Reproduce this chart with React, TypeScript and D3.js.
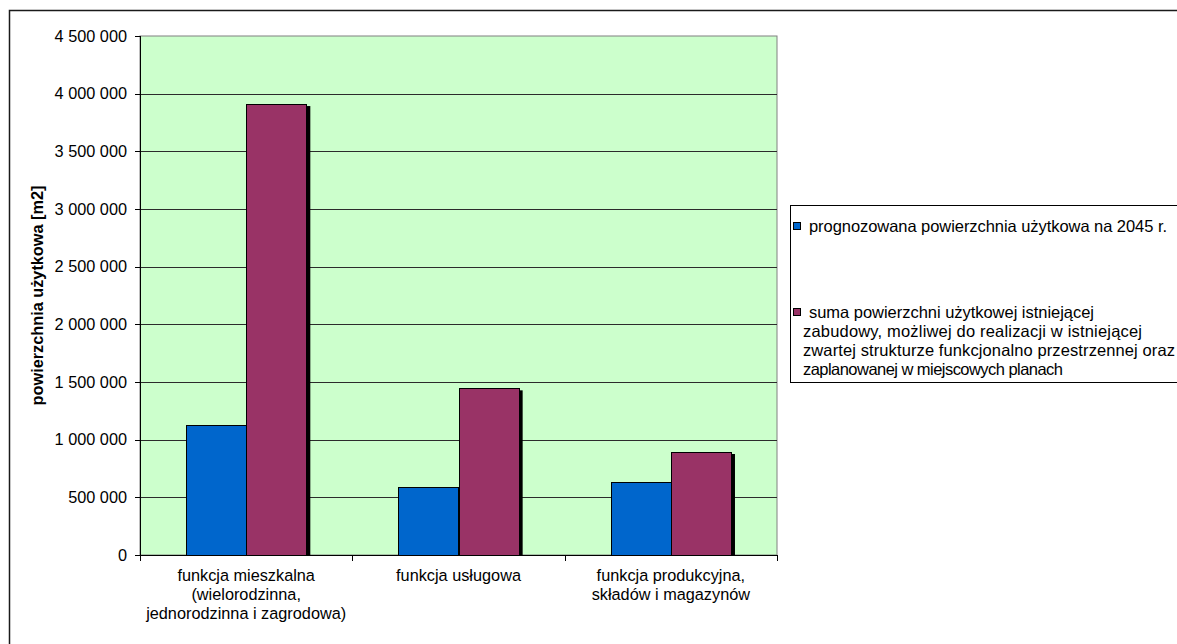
import React from "react";
import * as d3 from "d3";

const categories: string[][] = [
  ["funkcja mieszkalna", "(wielorodzinna,", "jednorodzinna i zagrodowa)"],
  ["funkcja usługowa"],
  ["funkcja produkcyjna,", "składów i magazynów"],
];
const legendLines: string[][] = [
  ["prognozowana powierzchnia użytkowa na 2045 r."],
  [
    "suma powierzchni użytkowej istniejącej",
    "zabudowy, możliwej do realizacji w istniejącej",
    "zwartej strukturze funkcjonalno przestrzennej oraz",
    "zaplanowanej w miejscowych planach",
  ],
];
const seriesForecast = [1127000, 587000, 636000];
const seriesSum = [3910000, 1445000, 893000];
const yTicks = [0, 500000, 1000000, 1500000, 2000000, 2500000, 3000000, 3500000, 4000000, 4500000];
const colors = ["#0066CC", "#993366"];
const yTitle = "powierzchnia użytkowa [m2]";

const W = 1177;
const H = 644;
const plot = { left: 140, right: 777, top: 36, bottom: 555 };
const FONT = "'Liberation Sans', Arial, sans-serif";
const FS = 16.3;
const LFS = 16.5;
// measured widths of the legend text lines in the reference rendering
const legendWidths: number[][] = [[358], [285, 339, 372, 260]];

const locale = d3.formatLocale({ thousands: " ", grouping: [3], decimal: ",", currency: ["", ""] });
const fmt = locale.format(",");

export default function App() {
  const catKeys = categories.map((c) => c.join(" "));
  const x0 = d3.scaleBand<string>().domain(catKeys).range([plot.left, plot.right]).padding(0);
  const y = d3.scaleLinear().domain([0, 4500000]).range([plot.bottom, plot.top]);
  const step = x0.step();
  const barW = step / (2 + 1.53);
  const groupW = barW * 2;
  const x1 = d3.scaleBand<number>().domain([0, 1]).range([0, groupW]).padding(0);
  const data = [seriesForecast, seriesSum];

  const bars: { x: number; y: number; w: number; h: number; c: string }[] = [];
  catKeys.forEach((k, i) => {
    const gx = (x0(k) as number) + (step - groupW) / 2;
    data.forEach((s, j) => {
      const bx = gx + (x1(j) as number);
      const by = y(s[i]);
      bars.push({ x: bx, y: by, w: x1.bandwidth(), h: plot.bottom - by, c: colors[j] });
    });
  });

  const legendX = 790;
  const legendY = 205;

  return (
    <svg
      width={W}
      height={H}
      style={{ position: "absolute", left: 0, top: 0, background: "#fff", overflow: "hidden" }}
      fontFamily={FONT}
    >
      <defs>
        <clipPath id="plotclip">
          <rect x={plot.left} y={plot.top} width={plot.right - plot.left} height={plot.bottom - plot.top} />
        </clipPath>
      </defs>
      {/* outer chart border (left and top only visible) */}
      <path d={`M9.5,${H} V10.5 H${W}`} fill="none" stroke="#1a1a1a" strokeWidth={1.5} />
      {/* plot area */}
      <rect
        x={plot.left}
        y={plot.top}
        width={plot.right - plot.left}
        height={plot.bottom - plot.top}
        fill="#CCFFCC"
        stroke="#808080"
        strokeWidth={1}
      />
      {/* gridlines */}
      {yTicks.slice(1, -1).map((t) => (
        <line
          key={t}
          x1={plot.left}
          x2={plot.right}
          y1={Math.round(y(t)) + 0.5}
          y2={Math.round(y(t)) + 0.5}
          stroke="#2b2b2b"
          strokeWidth={1}
        />
      ))}
      {/* shadows */}
      <g clipPath="url(#plotclip)">
        {bars.map((b, i) => (
          <rect key={"s" + i} x={b.x + 4} y={b.y + 2} width={b.w} height={b.h} fill="#000" />
        ))}
      </g>
      {/* bars */}
      {bars.map((b, i) => (
        <rect
          key={"b" + i}
          x={Math.round(b.x) + 0.5}
          y={Math.round(b.y) + 0.5}
          width={Math.round(b.w)}
          height={Math.round(b.h)}
          fill={b.c}
          stroke="#000"
          strokeWidth={1}
        />
      ))}
      {/* y axis */}
      <line x1={plot.left + 0.5} x2={plot.left + 0.5} y1={plot.top} y2={plot.bottom} stroke="#000" />
      {yTicks.map((t) => (
        <g key={"yt" + t}>
          <line
            x1={plot.left - 5}
            x2={plot.left}
            y1={Math.round(y(t)) + 0.5}
            y2={Math.round(y(t)) + 0.5}
            stroke="#000"
          />
          <text x={127} y={y(t)} dy="0.35em" textAnchor="end" fontSize={FS} fill="#000">
            {fmt(t)}
          </text>
        </g>
      ))}
      {/* x axis */}
      <line x1={plot.left} x2={plot.right + 0.5} y1={plot.bottom + 0.5} y2={plot.bottom + 0.5} stroke="#000" />
      {[...catKeys.map((k) => x0(k) as number), plot.right].map((xx, i) => (
        <line key={"xt" + i} x1={Math.round(xx) + 0.5} x2={Math.round(xx) + 0.5} y1={plot.bottom} y2={plot.bottom + 6} stroke="#000" />
      ))}
      {categories.map((lines, i) => (
        <text key={"xl" + i} textAnchor="middle" fontSize={FS} fill="#000">
          {lines.map((ln, j) => (
            <tspan key={j} x={(x0(catKeys[i]) as number) + step / 2} y={581 + j * 19}>
              {ln}
            </tspan>
          ))}
        </text>
      ))}
      {/* y title */}
      <text
        transform={`translate(43,${(plot.top + plot.bottom) / 2}) rotate(-90)`}
        textAnchor="middle"
        fontSize={FS}
        fontWeight="bold"
        fill="#000"
      >
        {yTitle}
      </text>
      {/* legend */}
      <rect x={legendX + 0.5} y={legendY + 0.5} width={500} height={177} fill="#fff" stroke="#000" strokeWidth={1} />
      {legendLines.map((lines, i) => {
        const baseY = i === 0 ? 232 : 318;
        return (
          <g key={"lg" + i}>
            <rect x={793.5} y={baseY - 9.5} width={7} height={7} fill={colors[i]} stroke="#000" strokeWidth={1} />
            {lines.map((ln, j) => (
              <text
                key={j}
                x={j === 0 ? 809 : 803}
                y={baseY + j * 19}
                fontSize={LFS}
                fill="#000"
                textLength={legendWidths[i][j]}
                lengthAdjust="spacing"
              >
                {ln}
              </text>
            ))}
          </g>
        );
      })}
    </svg>
  );
}
